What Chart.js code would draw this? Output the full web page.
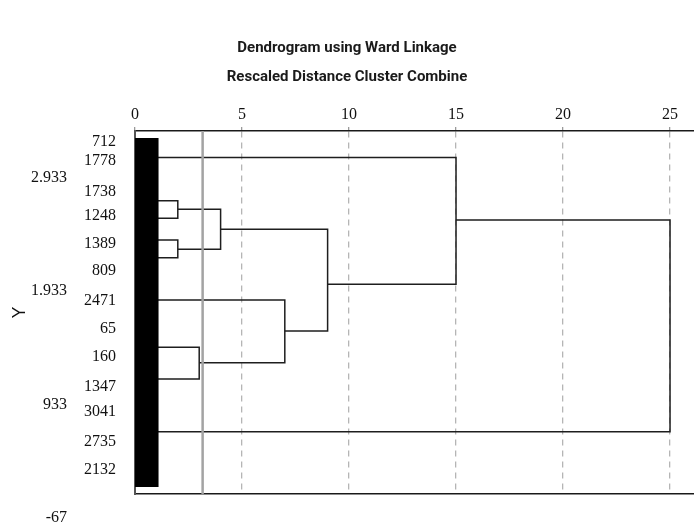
<!DOCTYPE html>
<html>
<head>
<meta charset="utf-8">
<script src="https://cdn.jsdelivr.net/npm/chart.js@4.4.0/dist/chart.umd.min.js"></script>
<style>
  html, body { margin: 0; padding: 0; background: #ffffff; }
  #wrap { width: 694px; height: 527px; }
</style>
</head>
<body>
<div id="wrap"><canvas id="c" width="694" height="527"></canvas></div>
<script>
// ---- Data ----
const titleLines = ['Dendrogram using Ward Linkage', 'Rescaled Distance Cluster Combine'];
const distanceTicks = [0, 5, 10, 15, 20, 25];
const yTicks = [-67, 933, 1933, 2933];
const yTickLabels = ['-67', '933', '1.933', '2.933'];
const leafIds = ['712', '1778', '1738', '1248', '1389', '809', '2471', '65', '160', '1347', '3041', '2735', '2132'];
const leafPos = [3249, 3081, 2808, 2594, 2353, 2112, 1848, 1598, 1352, 1090, 870, 603, 356];

// dendrogram links: each joins an upper and a lower branch at mergeHeight
const mergeHeight = [2, 2, 4, 3, 7, 9, 15, 25];
const upperX = [0, 0, 2, 0, 0, 4, 0, 15];
const upperY = [2729, 2382, 2653, 1437, 1854, 2477, 3109, 2559];
const lowerX = [0, 0, 2, 0, 3, 7, 9, 0];
const lowerY = [2574, 2227, 2301, 1158, 1301, 1581, 1992, 693];

// black leaf bar (distance extent, Y extent)
const barX = [0, 1.1];
const barY = [206, 3281];
// cut line
const cutLine = [3.16];

const yMin = 144, yMax = 3343;
const xMin = 0, xMax = 26.12;

// ---- Build datasets ----
const datasets = [];
datasets.push({
  label: 'bar',
  data: [
    {x: barX[0], y: barY[0]}, {x: barX[1], y: barY[0]},
    {x: barX[1], y: barY[1]}, {x: barX[0], y: barY[1]}
  ],
  showLine: true, fill: 'shape', backgroundColor: '#000000', borderColor: '#000000',
  borderWidth: 0, pointRadius: 0, order: 0
});
for (let i = 0; i < mergeHeight.length; i++) {
  datasets.push({
    label: 'link' + i,
    data: [
      {x: upperX[i], y: upperY[i]}, {x: mergeHeight[i], y: upperY[i]},
      {x: mergeHeight[i], y: lowerY[i]}, {x: lowerX[i], y: lowerY[i]}
    ],
    showLine: true, fill: false, borderColor: '#1e1e1e', borderWidth: 1.5,
    pointRadius: 0, tension: 0, order: 2
  });
}
datasets.push({
  label: 'cut',
  data: [{x: cutLine[0], y: yMin}, {x: cutLine[0], y: yMax}],
  showLine: true, fill: false, borderColor: '#a3a3a3', borderWidth: 2.5,
  pointRadius: 0, order: 1
});

const serif = 'Liberation Serif, DejaVu Serif, serif';

new Chart(document.getElementById('c'), {
  type: 'scatter',
  data: { datasets },
  options: {
    responsive: false,
    animation: false,
    layout: { padding: 0 },
    plugins: {
      legend: { display: false },
      tooltip: { enabled: false },
      title: {
        display: true,
        text: titleLines,
        color: '#1a1a1a',
        font: { family: 'Roboto, sans-serif', size: 15, weight: 'bold', lineHeight: 29 / 15 },
        padding: { top: 34, bottom: 0 }
      }
    },
    scales: {
      x: {
        type: 'linear', position: 'top', min: xMin, max: xMax,
        afterBuildTicks: s => { s.ticks = distanceTicks.map(v => ({value: v})); },
        afterFit: s => { s.height = 39; },
        ticks: { color: '#111', font: { family: serif, size: 16 }, padding: 3, autoSkip: false, maxRotation: 0 },
        grid: { color: '#b5b5b5', lineWidth: 1.3, tickLength: 4, tickColor: '#9a9a9a', tickWidth: 1.3 },
        border: { display: true, color: '#1a1a1a', width: 1.5, dash: [6, 5] }
      },
      x2: {
        type: 'linear', position: 'bottom', min: xMin, max: xMax,
        afterFit: s => { s.height = 33; },
        ticks: { display: false },
        grid: { display: false, drawTicks: false },
        border: { display: true, color: '#1a1a1a', width: 1.5 }
      },
      y: {
        type: 'linear', position: 'left', weight: 2, min: yMin, max: yMax,
        afterBuildTicks: s => { s.ticks = yTicks.map(v => ({value: v})); },
        afterFit: s => { s.width = 70; },
        ticks: {
          color: '#111', font: { family: serif, size: 16 }, padding: 3, autoSkip: false,
          callback: (v, i) => yTickLabels[i]
        },
        grid: { display: false, drawTicks: false },
        border: { display: false },
        title: { display: true, text: 'Y', color: '#111', font: { family: 'Liberation Sans, sans-serif', size: 18 }, padding: { top: 9, bottom: 0 } }
      },
      yLeaf: {
        type: 'linear', position: 'left', weight: 1, min: yMin, max: yMax,
        afterBuildTicks: s => { s.ticks = leafPos.map(v => ({value: v})); },
        afterFit: s => { s.width = 65; },
        ticks: {
          color: '#111', font: { family: serif, size: 16 }, padding: 19, autoSkip: false,
          callback: (v, i) => leafIds[i]
        },
        grid: { display: false, drawTicks: false },
        border: { display: true, color: '#555555', width: 2 }
      }
    }
  }
});
</script>
</body>
</html>
